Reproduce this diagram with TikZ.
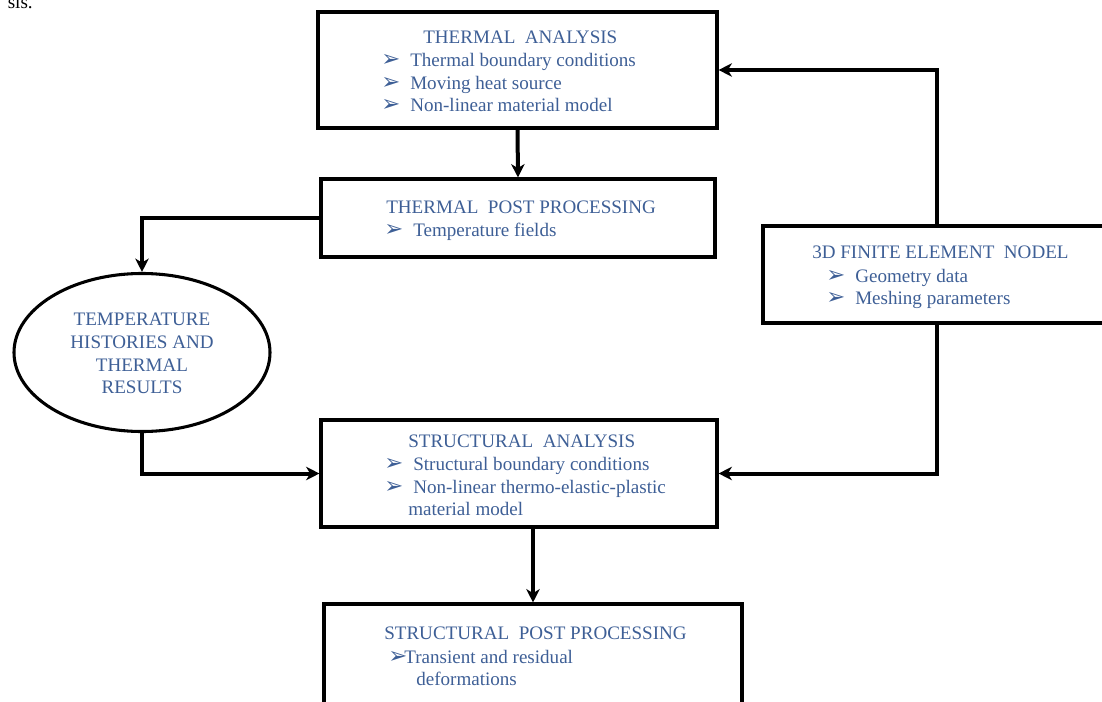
\documentclass[tikz,border=0pt]{standalone}
\usepackage{fontspec}
\setmainfont{Liberation Serif}
\newfontfamily\dejavu{DejaVu Sans}
\usetikzlibrary{arrows.meta,shapes.geometric,fit}
\definecolor{txtblue}{HTML}{3E5F96}
\tikzset{
  box/.style={draw=black,line width=2.3pt,inner sep=0pt,fill=none},
  oval/.style={draw=black,line width=2.3pt,ellipse,inner sep=0pt,minimum width=192pt,minimum height=118.5pt},
  conn/.style={draw=black,line width=3pt,-{Stealth[length=10pt,width=10pt,inset=3pt]}},
  txt/.style={anchor=base west,inner sep=0pt,text=txtblue,font=\fontsize{14.3pt}{17pt}\selectfont},
  ctxt/.style={anchor=base,inner sep=0pt,text=txtblue,font=\fontsize{14.3pt}{17pt}\selectfont},
  bul/.style={anchor=base west,inner sep=0pt,text=txtblue,font=\dejavu\fontsize{17pt}{18pt}\selectfont},
}
\begin{document}
\begin{tikzpicture}[x=0.75pt,y=-0.75pt]
\useasboundingbox (0,0) rectangle (1102,702);
% stray caption fragment
\node[anchor=base east,inner sep=0pt,font=\fontsize{14.3pt}{17pt}\selectfont] (frag) at (33,9) {sis.};
% boxes
\node[box,fit={(318,12) (717,128)}] (ta) {};
\node[box,fit={(321,179) (715,257)}] (tp) {};
\node[box,fit={(763,226) (1111,323)}] (fe) {};
\node[box,fit={(321,420) (717,527)}] (sa) {};
\node[box,fit={(324,604) (742,730)}] (sp) {};
\node[oval] (el) at (142,352.5) {};
% thermal analysis
\node[txt] (ta0) at (423,44) {THERMAL\ \ ANALYSIS};
\node[bul] (tab1) at (381,67) {➢};
\node[txt] (ta1) at (410,67) {Thermal boundary conditions};
\node[bul] (tab2) at (381,89.5) {➢};
\node[txt] (ta2) at (410,89.5) {Moving heat source};
\node[bul] (tab3) at (381,112) {➢};
\node[txt] (ta3) at (410,112) {Non-linear material model};
% thermal post processing
\node[txt] (tp0) at (386,214) {THERMAL\ \ POST PROCESSING};
\node[bul] (tpb1) at (384,237) {➢};
\node[txt] (tp1) at (413,237) {Temperature fields};
% 3D FE model
\node[txt] (fe0) at (812,258) {3D FINITE ELEMENT\ \ NODEL};
\node[bul] (feb1) at (826,282) {➢};
\node[txt] (fe1) at (855,282) {Geometry data};
\node[bul] (feb2) at (826,304) {➢};
\node[txt] (fe2) at (855,304) {Meshing parameters};
% ellipse text
\node[ctxt] (el1) at (142,325) {TEMPERATURE};
\node[ctxt] (el2) at (142,348) {HISTORIES AND};
\node[ctxt] (el3) at (142,371) {THERMAL};
\node[ctxt] (el4) at (142,393) {RESULTS};
% structural analysis
\node[txt] (sa0) at (408,447) {STRUCTURAL\ \ ANALYSIS};
\node[bul] (sab1) at (384,470) {➢};
\node[txt] (sa1) at (413,470) {Structural boundary conditions};
\node[bul] (sab2) at (384,493) {➢};
\node[txt] (sa2) at (413,493) {Non-linear thermo-elastic-plastic};
\node[txt] (sa3) at (408,515) {material model};
% structural post processing
\node[txt] (sp0) at (384,639) {STRUCTURAL\ \ POST PROCESSING};
\node[bul] (spb1) at (388,663) {➢};
\node[txt] (sp1) at (404,663) {Transient and residual};
\node[txt] (sp2) at (416,685) {deformations};
% connectors
\draw[conn] (ta.south) -- (tp.north);
\draw[conn] (fe.north) |- (ta.east);
\draw[conn] (fe.south) |- (sa.east);
\draw[conn] (tp.west) -| (el.north);
\draw[conn] (el.south) |- (sa.west);
\draw[conn] (sa.south -| sp.north) -- (sp.north);
\end{tikzpicture}
\end{document}
